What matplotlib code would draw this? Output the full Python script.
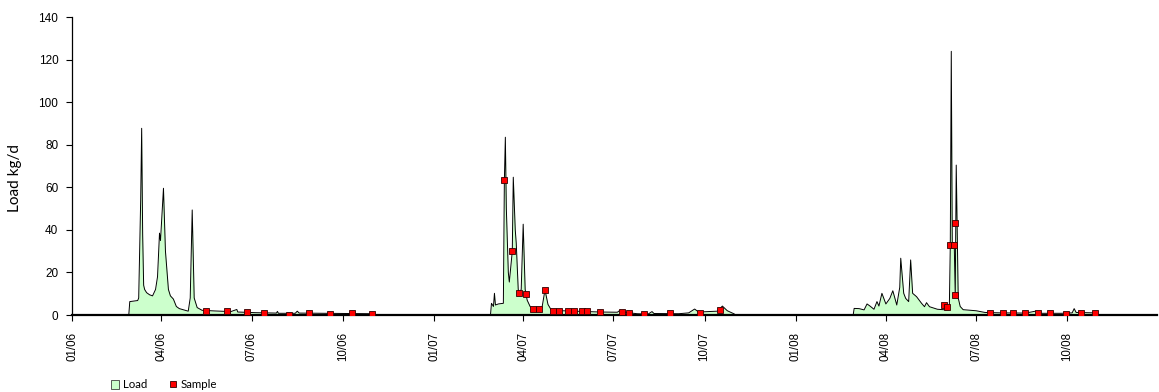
import matplotlib
matplotlib.use("Agg")
import matplotlib.pyplot as plt
import matplotlib.dates as mdates
from matplotlib.patches import Patch
from matplotlib.lines import Line2D
import numpy as np
import pandas as pd

# ---------------- data ----------------
load_dates = [
    # 2006
    "2006-01-01", "2006-02-27", "2006-02-28", "2006-03-08", "2006-03-09", "2006-03-11", "2006-03-12",
    "2006-03-13", "2006-03-14", "2006-03-15", "2006-03-17", "2006-03-20", "2006-03-23", "2006-03-26",
    "2006-03-28", "2006-03-30", "2006-03-31", "2006-04-03", "2006-04-05", "2006-04-08", "2006-04-10",
    "2006-04-13", "2006-04-16", "2006-04-19", "2006-04-28", "2006-04-30", "2006-05-02", "2006-05-04",
    "2006-05-07", "2006-05-12", "2006-05-25", "2006-06-10", "2006-06-16", "2006-06-17", "2006-07-05",
    "2006-07-26", "2006-07-27", "2006-07-28", "2006-08-14", "2006-08-16", "2006-08-18", "2006-09-15",
    "2006-10-15", "2006-10-31", "2006-11-02",
    # 2007
    "2007-02-27", "2007-02-28", "2007-03-02", "2007-03-03", "2007-03-04", "2007-03-07", "2007-03-12",
    "2007-03-13", "2007-03-14", "2007-03-15", "2007-03-17", "2007-03-18", "2007-03-21", "2007-03-22",
    "2007-03-24", "2007-03-25", "2007-03-27", "2007-03-28", "2007-03-30", "2007-04-01", "2007-04-03",
    "2007-04-05", "2007-04-08", "2007-04-11", "2007-04-17", "2007-04-20", "2007-04-23", "2007-04-26",
    "2007-04-29", "2007-05-10", "2007-05-30", "2007-06-18", "2007-07-05", "2007-07-08", "2007-07-12",
    "2007-07-25", "2007-08-05", "2007-08-09", "2007-08-11", "2007-09-05", "2007-09-15", "2007-09-21",
    "2007-09-25", "2007-10-14", "2007-10-19", "2007-10-24", "2007-10-31", "2007-11-01",
    # 2008
    "2008-02-28", "2008-02-29", "2008-03-05", "2008-03-10", "2008-03-13", "2008-03-16", "2008-03-20",
    "2008-03-23", "2008-03-25", "2008-03-28", "2008-04-01", "2008-04-05", "2008-04-08", "2008-04-12",
    "2008-04-15", "2008-04-16", "2008-04-19", "2008-04-21", "2008-04-24", "2008-04-26", "2008-04-28",
    "2008-05-02", "2008-05-07", "2008-05-10", "2008-05-12", "2008-05-15", "2008-05-23", "2008-06-01",
    "2008-06-04", "2008-06-05", "2008-06-06", "2008-06-07", "2008-06-09", "2008-06-10", "2008-06-11",
    "2008-06-13", "2008-06-15", "2008-06-18", "2008-07-01", "2008-07-10", "2008-07-26", "2008-07-28",
    "2008-07-30", "2008-08-20", "2008-08-30", "2008-09-01", "2008-09-25", "2008-10-06", "2008-10-08",
    "2008-10-10", "2008-10-29", "2008-10-31", "2008-12-31",
]
load_values = [
    # 2006
    0, 0, 6.3, 6.8, 8, 54, 87.8,
    38, 14, 12, 10.5, 9.5, 9, 12,
    18, 38.5, 35, 59.6, 30, 12, 9,
    7.5, 4, 3, 1.8, 8, 49.4, 8,
    3.5, 2.2, 1.9, 1.6, 2.6, 1.4, 1.1,
    0.9, 1.7, 0.8, 0.8, 1.8, 0.9, 0.8,
    0.7, 0.6, 0,
    # 2007
    0, 5.5, 4, 10.2, 4.7, 5.2, 5.5,
    63, 83.6, 50, 20, 15.5, 30, 64.8,
    40, 33.7, 12, 10.5, 12, 42.7, 12,
    7, 4, 2.8, 2.5, 3.5, 11.8, 5,
    2.6, 2.0, 1.7, 1.4, 1.3, 2.3, 1.3,
    0.6, 0.4, 1.6, 0.7, 0.6, 1.0, 2.8,
    1.4, 1.8, 4.2, 2.0, 0.5, 0,
    # 2008
    0, 3.1, 3.0, 2.4, 5.2, 4.2, 2.7,
    6.3, 4.2, 10.2, 5.2, 7.8, 11.4, 4.7,
    13, 26.7, 10.2, 7.8, 6.3, 25.9, 10.2,
    8.6, 5.5, 3.9, 5.8, 3.9, 2.7, 2.4,
    2.5, 32.8, 124, 33, 33, 9.5, 70.5,
    8, 4, 2.5, 2.0, 1.2, 1.0, 1.6,
    1.0, 0.9, 1.8, 0.8, 0.8, 1.0, 3.0,
    1.2, 1.0, 0, 0,
]

sample_dates = [
    "2006-05-16", "2006-06-06", "2006-06-26", "2006-07-13", "2006-08-08", "2006-08-28",
    "2006-09-18", "2006-10-10", "2006-10-30",
    "2007-03-13", "2007-03-21", "2007-03-28", "2007-04-04", "2007-04-11", "2007-04-17",
    "2007-04-23", "2007-05-01", "2007-05-07", "2007-05-16", "2007-05-22", "2007-05-30",
    "2007-06-04", "2007-06-18", "2007-07-10", "2007-07-17", "2007-08-01", "2007-08-27",
    "2007-09-26", "2007-10-17",
    "2008-05-30", "2008-06-02", "2008-06-05", "2008-06-09", "2008-06-10", "2008-06-10",
    "2008-07-15", "2008-07-28", "2008-08-07", "2008-08-19", "2008-09-02", "2008-09-14",
    "2008-09-30", "2008-10-15", "2008-10-29",
]
sample_values = [
    2.0, 2.0, 1.3, 0.8, 0.2, 0.8, 0.7, 0.8, 0.7,
    63.3, 30, 10.5, 9.7, 2.7, 2.7, 11.6, 2.0, 1.8, 1.8, 1.8, 1.8,
    1.8, 1.3, 1.3, 0.8, 0.3, 0.8, 0.9, 2.2,
    4.7, 3.8, 32.8, 32.8, 43.2, 9.5,
    1.1, 1.1, 0.8, 0.8, 0.8, 0.8, 0.3, 1.1, 1.1,
]

x_start = "2006-01-01"
x_end = "2008-12-31"
y_ticks = [0, 20, 40, 60, 80, 100, 120, 140]

# ---------------- plot ----------------
ld = pd.to_datetime(load_dates)
sd = pd.to_datetime(sample_dates)

fig = plt.figure(figsize=(11.59, 3.92), dpi=100)
ax = fig.add_axes([72.3 / 1159, 77 / 392, 1085.1 / 1159, 297.7 / 392])

ax.fill_between(ld, 0, load_values, color="#ccffcc", lw=0, zorder=1)
ax.plot(ld, load_values, color="black", lw=0.7, zorder=2)
ax.plot(sd, sample_values, ls="none", marker="s", ms=4.5, mfc="#ff0000",
        mec="#330000", mew=0.6, zorder=3)

ax.set_xlim(pd.Timestamp(x_start), pd.Timestamp(x_end))
ax.set_ylim(0, 140)
ax.set_yticks(y_ticks)

ax.xaxis.set_major_locator(mdates.MonthLocator(bymonth=[1, 4, 7, 10]))
ax.xaxis.set_major_formatter(mdates.DateFormatter("%m/%y"))

for s in ["top", "right"]:
    ax.spines[s].set_visible(False)
ax.spines["bottom"].set_linewidth(1.6)
ax.spines["left"].set_linewidth(0.9)

ax.tick_params(axis="y", direction="out", length=4, width=0.8, pad=6)
ax.tick_params(axis="x", direction="out", length=4, width=0.8, pad=8)
for lab in ax.get_yticklabels():
    lab.set_fontfamily("Liberation Sans")
    lab.set_fontsize(8.5)
for lab in ax.get_xticklabels():
    lab.set_fontfamily("Liberation Sans")
    lab.set_fontsize(8.3)
    lab.set_rotation(90)
    lab.set_va("top")
    lab.set_ha("center")

ax.set_ylabel("Load kg/d", family="Lato", fontsize=11)
ax.yaxis.set_label_coords((21.7 - 72.3) / 1085.1, (315 - 178) / 297.7)

handles = [
    Patch(facecolor="#ccffcc", edgecolor="#404040", lw=0.6, label="Load"),
    Line2D([], [], ls="none", marker="s", ms=4.5, mfc="#ff0000", mec="#330000",
           mew=0.6, label="Sample"),
]
fig.legend(handles=handles, loc="center left", bbox_to_anchor=(111 / 1159, 1 - 385 / 392),
           ncol=2, frameon=False, prop=dict(family="Lato", size=8.3),
           handlelength=0.7, handleheight=0.8, handletextpad=0.3, columnspacing=1.9,
           borderaxespad=0, borderpad=0)

fig.savefig("out.png", dpi=100)
